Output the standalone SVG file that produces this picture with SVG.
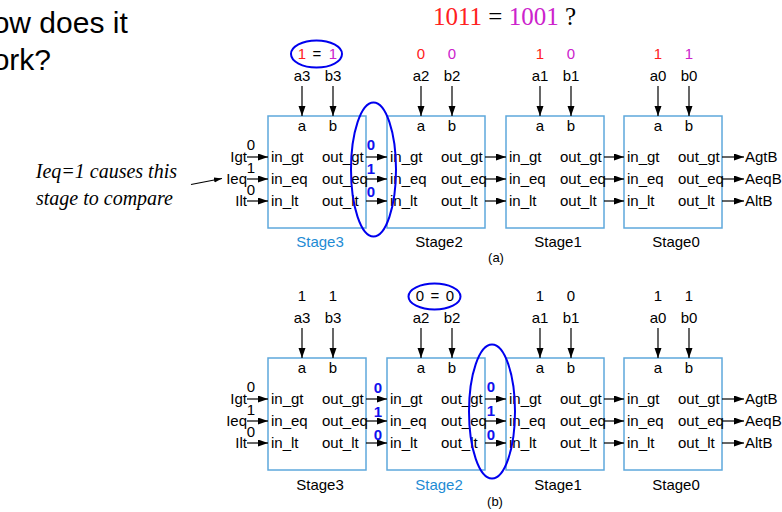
<svg xmlns="http://www.w3.org/2000/svg" width="782" height="512" viewBox="0 0 782 512">
<style>
text{font-family:"Liberation Sans",Arial,sans-serif;font-size:15px;fill:#000}
.m{text-anchor:middle}
.e{text-anchor:end}
.box{fill:none;stroke:#5ea8dc;stroke-width:1.5}
.ln{stroke:#000;stroke-width:1.2;fill:none}
.hl{fill:#1e8bd4}
.r{fill:#ff2020}
.p{fill:#cc22cc}
.bv{fill:#1010ee;font-weight:bold;text-anchor:middle}
.ov{fill:none;stroke:#0000ee;stroke-width:2}
.sm{font-size:13px}
.serif{font-family:"Liberation Serif","Times New Roman",serif}
</style>
<defs>
<marker id="ah" markerUnits="userSpaceOnUse" markerWidth="11" markerHeight="8" refX="10" refY="3.5" orient="auto"><path d="M0,0 L10,3.5 L0,7 z" fill="#000"/></marker>
<marker id="ah2" markerUnits="userSpaceOnUse" markerWidth="9" markerHeight="6" refX="8" refY="2.5" orient="auto"><path d="M0,0 L8,2.5 L0,5 z" fill="#000"/></marker>
</defs>
<rect width="782" height="512" fill="#fff"/>

<g id="title">
<text x="-29" y="33" style="font-size:30px">How does it</text>
<text x="-29" y="70" style="font-size:30px">work?</text>
<text class="serif" x="433" y="25" style="font-size:25px"><tspan class="r">1011</tspan> = <tspan class="p">1001</tspan> ?</text>
</g>

<g id="callout">
<text class="serif e" x="177" y="178" style="font-size:20px;font-style:italic">Ieq=1 causes this</text>
<text class="serif e" x="173" y="205" style="font-size:20px;font-style:italic">stage to compare</text>
</g>

<!-- (a) -->
<g id="a-stage3">
<rect class="box" x="268" y="116" width="98" height="112"/>
<text class="m" x="302" y="131">a</text><text class="m" x="333" y="131">b</text>
<text x="271" y="162">in_gt</text><text x="271" y="184">in_eq</text><text x="271" y="206">in_lt</text>
<text x="322" y="162">out_gt</text><text x="322" y="184">out_eq</text><text x="322" y="206">out_lt</text>
<text class="m hl" x="320" y="247">Stage3</text>
<text class="m" x="302" y="81">a3</text><text class="m" x="333" y="81">b3</text>
<text class="m r" x="302" y="59">1</text><text class="m" x="317" y="59">=</text><text class="m p" x="333" y="59">1</text>
</g>
<g id="a-stage2">
<rect class="box" x="387" y="116" width="98" height="112"/>
<text class="m" x="421" y="131">a</text><text class="m" x="452" y="131">b</text>
<text x="390" y="162">in_gt</text><text x="390" y="184">in_eq</text><text x="390" y="206">in_lt</text>
<text x="441" y="162">out_gt</text><text x="441" y="184">out_eq</text><text x="441" y="206">out_lt</text>
<text class="m" x="439" y="247">Stage2</text>
<text class="m" x="421" y="81">a2</text><text class="m" x="452" y="81">b2</text>
<text class="m r" x="421" y="59">0</text><text class="m p" x="452" y="59">0</text>
</g>
<g id="a-stage1">
<rect class="box" x="506" y="116" width="98" height="112"/>
<text class="m" x="540" y="131">a</text><text class="m" x="571" y="131">b</text>
<text x="509" y="162">in_gt</text><text x="509" y="184">in_eq</text><text x="509" y="206">in_lt</text>
<text x="560" y="162">out_gt</text><text x="560" y="184">out_eq</text><text x="560" y="206">out_lt</text>
<text class="m" x="558" y="247">Stage1</text>
<text class="m" x="540" y="81">a1</text><text class="m" x="571" y="81">b1</text>
<text class="m r" x="540" y="59">1</text><text class="m p" x="571" y="59">0</text>
</g>
<g id="a-stage0">
<rect class="box" x="624" y="116" width="98" height="112"/>
<text class="m" x="658" y="131">a</text><text class="m" x="689" y="131">b</text>
<text x="627" y="162">in_gt</text><text x="627" y="184">in_eq</text><text x="627" y="206">in_lt</text>
<text x="678" y="162">out_gt</text><text x="678" y="184">out_eq</text><text x="678" y="206">out_lt</text>
<text class="m" x="676" y="247">Stage0</text>
<text class="m" x="658" y="81">a0</text><text class="m" x="689" y="81">b0</text>
<text class="m r" x="658" y="59">1</text><text class="m p" x="689" y="59">1</text>
</g>
<g id="a-io">
<text class="e" x="247" y="162">Igt</text><text class="e" x="247" y="184">Ieq</text><text class="e" x="247" y="206">Ilt</text>
<text class="m" x="251" y="150">0</text><text class="m" x="251" y="173">1</text><text class="m" x="251" y="195">0</text>
<text x="745" y="162">AgtB</text><text x="745" y="184">AeqB</text><text x="745" y="206">AltB</text>
<text class="bv" x="371" y="150">0</text><text class="bv" x="371" y="174">1</text><text class="bv" x="371" y="197">0</text>
<text class="m sm" x="496" y="262">(a)</text>
</g>

<!-- (b) -->
<g id="b-stage3">
<rect class="box" x="268" y="358" width="98" height="112"/>
<text class="m" x="302" y="373">a</text><text class="m" x="333" y="373">b</text>
<text x="271" y="404">in_gt</text><text x="271" y="426">in_eq</text><text x="271" y="448">in_lt</text>
<text x="322" y="404">out_gt</text><text x="322" y="426">out_eq</text><text x="322" y="448">out_lt</text>
<text class="m" x="320" y="490">Stage3</text>
<text class="m" x="302" y="323">a3</text><text class="m" x="333" y="323">b3</text>
<text class="m" x="302" y="301">1</text><text class="m" x="333" y="301">1</text>
</g>
<g id="b-stage2">
<rect class="box" x="387" y="358" width="98" height="112"/>
<text class="m" x="421" y="373">a</text><text class="m" x="452" y="373">b</text>
<text x="390" y="404">in_gt</text><text x="390" y="426">in_eq</text><text x="390" y="448">in_lt</text>
<text x="441" y="404">out_gt</text><text x="441" y="426">out_eq</text><text x="441" y="448">out_lt</text>
<text class="m hl" x="439" y="490">Stage2</text>
<text class="m" x="421" y="323">a2</text><text class="m" x="452" y="323">b2</text>
<text class="m" x="420" y="301">0</text><text class="m" x="435" y="301">=</text><text class="m" x="450" y="301">0</text>
</g>
<g id="b-stage1">
<rect class="box" x="506" y="358" width="98" height="112"/>
<text class="m" x="540" y="373">a</text><text class="m" x="571" y="373">b</text>
<text x="509" y="404">in_gt</text><text x="509" y="426">in_eq</text><text x="509" y="448">in_lt</text>
<text x="560" y="404">out_gt</text><text x="560" y="426">out_eq</text><text x="560" y="448">out_lt</text>
<text class="m" x="558" y="490">Stage1</text>
<text class="m" x="540" y="323">a1</text><text class="m" x="571" y="323">b1</text>
<text class="m" x="540" y="301">1</text><text class="m" x="571" y="301">0</text>
</g>
<g id="b-stage0">
<rect class="box" x="624" y="358" width="98" height="112"/>
<text class="m" x="658" y="373">a</text><text class="m" x="689" y="373">b</text>
<text x="627" y="404">in_gt</text><text x="627" y="426">in_eq</text><text x="627" y="448">in_lt</text>
<text x="678" y="404">out_gt</text><text x="678" y="426">out_eq</text><text x="678" y="448">out_lt</text>
<text class="m" x="676" y="490">Stage0</text>
<text class="m" x="658" y="323">a0</text><text class="m" x="689" y="323">b0</text>
<text class="m" x="658" y="301">1</text><text class="m" x="689" y="301">1</text>
</g>
<g id="b-io">
<text class="e" x="247" y="404">Igt</text><text class="e" x="247" y="426">Ieq</text><text class="e" x="247" y="448">Ilt</text>
<text class="m" x="251" y="392">0</text><text class="m" x="251" y="415">1</text><text class="m" x="251" y="437">0</text>
<text x="745" y="404">AgtB</text><text x="745" y="426">AeqB</text><text x="745" y="448">AltB</text>
<text class="bv" x="378" y="393">0</text><text class="bv" x="378" y="417">1</text><text class="bv" x="378" y="440">0</text>
<text class="bv" x="491" y="392">0</text><text class="bv" x="491" y="416">1</text><text class="bv" x="491" y="440">0</text>
<text class="m sm" x="495" y="506">(b)</text>
</g>

<g id="highlights">
<ellipse class="ov" cx="316.5" cy="54" rx="25.5" ry="13.5"/>
<ellipse class="ov" cx="373.5" cy="169.5" rx="22.5" ry="67"/>
<ellipse class="ov" cx="434.5" cy="296.5" rx="26" ry="13"/>
<ellipse class="ov" cx="492" cy="411.5" rx="23" ry="67"/>
</g>

<g id="connectors" class="ln" marker-end="url(#ah)">
<!-- (a) vertical -->
<path d="M302,86V116"/><path d="M333,86V116"/>
<path d="M421,86V116"/><path d="M452,86V116"/>
<path d="M540,86V116"/><path d="M571,86V116"/>
<path d="M658,86V116"/><path d="M689,86V116"/>
<!-- (a) horizontal -->
<path d="M247,157H268"/><path d="M247,179H268"/><path d="M247,201H268"/>
<path d="M366,157H387"/><path d="M366,179H387"/><path d="M366,201H387"/>
<path d="M485,157H506"/><path d="M485,179H506"/><path d="M485,201H506"/>
<path d="M604,157H624"/><path d="M604,179H624"/><path d="M604,201H624"/>
<path d="M722,157H744"/><path d="M722,179H744"/><path d="M722,201H744"/>
<!-- (b) vertical -->
<path d="M302,328V358"/><path d="M333,328V358"/>
<path d="M421,328V358"/><path d="M452,328V358"/>
<path d="M540,328V358"/><path d="M571,328V358"/>
<path d="M658,328V358"/><path d="M689,328V358"/>
<!-- (b) horizontal -->
<path d="M247,399H268"/><path d="M247,421H268"/><path d="M247,443H268"/>
<path d="M366,399H387"/><path d="M366,421H387"/><path d="M366,443H387"/>
<path d="M485,399H506"/><path d="M485,421H506"/><path d="M485,443H506"/>
<path d="M604,399H624"/><path d="M604,421H624"/><path d="M604,443H624"/>
<path d="M722,399H744"/><path d="M722,421H744"/><path d="M722,443H744"/>
<!-- callout -->
<path d="M191,184.5L222,178.5" marker-end="url(#ah2)"/>
</g>
</svg>
